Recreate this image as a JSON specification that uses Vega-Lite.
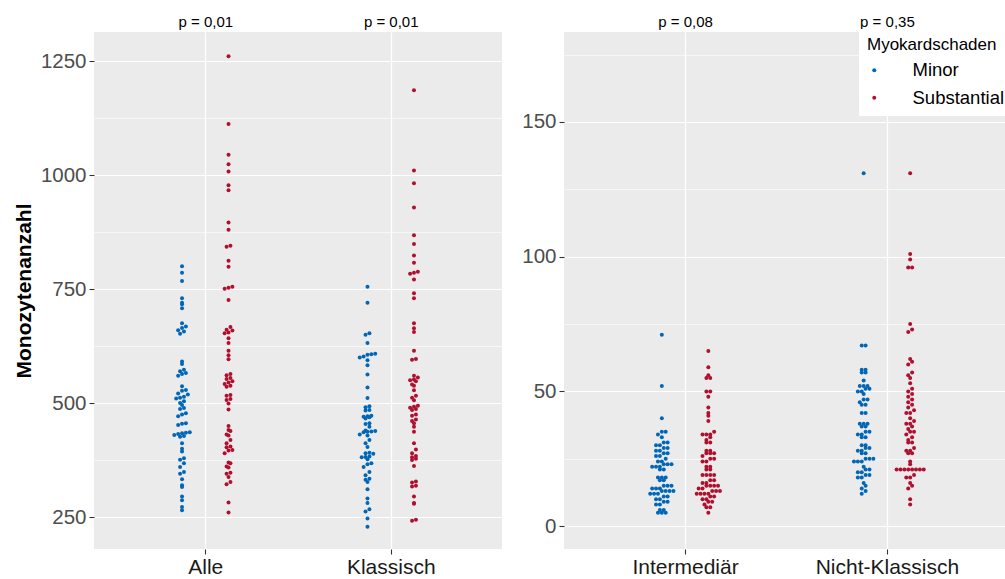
{
 "$schema": "https://vega.github.io/schema/vega-lite/v6.json",
 "padding": {"left": 13, "top": 14, "right": 0, "bottom": 0},
 "datasets": {
  "monos": [
   {"kat":"Alle","gruppe":"Minor","wert":800},{"kat":"Alle","gruppe":"Minor","wert":786},{"kat":"Alle","gruppe":"Minor","wert":768},{"kat":"Alle","gruppe":"Minor","wert":730},{"kat":"Alle","gruppe":"Minor","wert":720},{"kat":"Alle","gruppe":"Minor","wert":717},{"kat":"Alle","gruppe":"Minor","wert":708},{"kat":"Alle","gruppe":"Minor","wert":675},{"kat":"Alle","gruppe":"Minor","wert":668},{"kat":"Alle","gruppe":"Minor","wert":665},{"kat":"Alle","gruppe":"Minor","wert":660},{"kat":"Alle","gruppe":"Minor","wert":657},{"kat":"Alle","gruppe":"Minor","wert":652},{"kat":"Alle","gruppe":"Minor","wert":591},{"kat":"Alle","gruppe":"Minor","wert":586},{"kat":"Alle","gruppe":"Minor","wert":573},{"kat":"Alle","gruppe":"Minor","wert":570},{"kat":"Alle","gruppe":"Minor","wert":566},{"kat":"Alle","gruppe":"Minor","wert":564},{"kat":"Alle","gruppe":"Minor","wert":560},{"kat":"Alle","gruppe":"Minor","wert":537},{"kat":"Alle","gruppe":"Minor","wert":529},{"kat":"Alle","gruppe":"Minor","wert":527},{"kat":"Alle","gruppe":"Minor","wert":521},{"kat":"Alle","gruppe":"Minor","wert":519},{"kat":"Alle","gruppe":"Minor","wert":514},{"kat":"Alle","gruppe":"Minor","wert":512},{"kat":"Alle","gruppe":"Minor","wert":510},{"kat":"Alle","gruppe":"Minor","wert":504},{"kat":"Alle","gruppe":"Minor","wert":500},{"kat":"Alle","gruppe":"Minor","wert":496},{"kat":"Alle","gruppe":"Minor","wert":489},{"kat":"Alle","gruppe":"Minor","wert":487},{"kat":"Alle","gruppe":"Minor","wert":478},{"kat":"Alle","gruppe":"Minor","wert":475},{"kat":"Alle","gruppe":"Minor","wert":471},{"kat":"Alle","gruppe":"Minor","wert":456},{"kat":"Alle","gruppe":"Minor","wert":455},{"kat":"Alle","gruppe":"Minor","wert":452},{"kat":"Alle","gruppe":"Minor","wert":436},{"kat":"Alle","gruppe":"Minor","wert":435},{"kat":"Alle","gruppe":"Minor","wert":434},{"kat":"Alle","gruppe":"Minor","wert":432},{"kat":"Alle","gruppe":"Minor","wert":430},{"kat":"Alle","gruppe":"Minor","wert":428},{"kat":"Alle","gruppe":"Minor","wert":426},{"kat":"Alle","gruppe":"Minor","wert":412},{"kat":"Alle","gruppe":"Minor","wert":400},{"kat":"Alle","gruppe":"Minor","wert":394},{"kat":"Alle","gruppe":"Minor","wert":379},{"kat":"Alle","gruppe":"Minor","wert":376},{"kat":"Alle","gruppe":"Minor","wert":368},{"kat":"Alle","gruppe":"Minor","wert":360},{"kat":"Alle","gruppe":"Minor","wert":349},{"kat":"Alle","gruppe":"Minor","wert":345},{"kat":"Alle","gruppe":"Minor","wert":333},{"kat":"Alle","gruppe":"Minor","wert":320},{"kat":"Alle","gruppe":"Minor","wert":316},{"kat":"Alle","gruppe":"Minor","wert":295},{"kat":"Alle","gruppe":"Minor","wert":287},{"kat":"Alle","gruppe":"Minor","wert":272},{"kat":"Alle","gruppe":"Minor","wert":265},
   {"kat":"Alle","gruppe":"Substantial","wert":1261},{"kat":"Alle","gruppe":"Substantial","wert":1112},{"kat":"Alle","gruppe":"Substantial","wert":1045},{"kat":"Alle","gruppe":"Substantial","wert":1024},{"kat":"Alle","gruppe":"Substantial","wert":1008},{"kat":"Alle","gruppe":"Substantial","wert":978},{"kat":"Alle","gruppe":"Substantial","wert":967},{"kat":"Alle","gruppe":"Substantial","wert":896},{"kat":"Alle","gruppe":"Substantial","wert":880},{"kat":"Alle","gruppe":"Substantial","wert":845},{"kat":"Alle","gruppe":"Substantial","wert":843},{"kat":"Alle","gruppe":"Substantial","wert":812},{"kat":"Alle","gruppe":"Substantial","wert":799},{"kat":"Alle","gruppe":"Substantial","wert":755},{"kat":"Alle","gruppe":"Substantial","wert":753},{"kat":"Alle","gruppe":"Substantial","wert":751},{"kat":"Alle","gruppe":"Substantial","wert":726},{"kat":"Alle","gruppe":"Substantial","wert":667},{"kat":"Alle","gruppe":"Substantial","wert":661},{"kat":"Alle","gruppe":"Substantial","wert":659},{"kat":"Alle","gruppe":"Substantial","wert":655},{"kat":"Alle","gruppe":"Substantial","wert":653},{"kat":"Alle","gruppe":"Substantial","wert":642},{"kat":"Alle","gruppe":"Substantial","wert":632},{"kat":"Alle","gruppe":"Substantial","wert":615},{"kat":"Alle","gruppe":"Substantial","wert":605},{"kat":"Alle","gruppe":"Substantial","wert":596},{"kat":"Alle","gruppe":"Substantial","wert":564},{"kat":"Alle","gruppe":"Substantial","wert":561},{"kat":"Alle","gruppe":"Substantial","wert":555},{"kat":"Alle","gruppe":"Substantial","wert":553},{"kat":"Alle","gruppe":"Substantial","wert":548},{"kat":"Alle","gruppe":"Substantial","wert":545},{"kat":"Alle","gruppe":"Substantial","wert":542},{"kat":"Alle","gruppe":"Substantial","wert":538},{"kat":"Alle","gruppe":"Substantial","wert":536},{"kat":"Alle","gruppe":"Substantial","wert":518},{"kat":"Alle","gruppe":"Substantial","wert":516},{"kat":"Alle","gruppe":"Substantial","wert":509},{"kat":"Alle","gruppe":"Substantial","wert":507},{"kat":"Alle","gruppe":"Substantial","wert":499},{"kat":"Alle","gruppe":"Substantial","wert":486},{"kat":"Alle","gruppe":"Substantial","wert":450},{"kat":"Alle","gruppe":"Substantial","wert":441},{"kat":"Alle","gruppe":"Substantial","wert":439},{"kat":"Alle","gruppe":"Substantial","wert":431},{"kat":"Alle","gruppe":"Substantial","wert":429},{"kat":"Alle","gruppe":"Substantial","wert":419},{"kat":"Alle","gruppe":"Substantial","wert":412},{"kat":"Alle","gruppe":"Substantial","wert":405},{"kat":"Alle","gruppe":"Substantial","wert":403},{"kat":"Alle","gruppe":"Substantial","wert":397},{"kat":"Alle","gruppe":"Substantial","wert":396},{"kat":"Alle","gruppe":"Substantial","wert":390},{"kat":"Alle","gruppe":"Substantial","wert":370},{"kat":"Alle","gruppe":"Substantial","wert":368},{"kat":"Alle","gruppe":"Substantial","wert":361},{"kat":"Alle","gruppe":"Substantial","wert":359},{"kat":"Alle","gruppe":"Substantial","wert":347},{"kat":"Alle","gruppe":"Substantial","wert":345},{"kat":"Alle","gruppe":"Substantial","wert":338},{"kat":"Alle","gruppe":"Substantial","wert":327},{"kat":"Alle","gruppe":"Substantial","wert":322},{"kat":"Alle","gruppe":"Substantial","wert":282},{"kat":"Alle","gruppe":"Substantial","wert":260},
   {"kat":"Klassisch","gruppe":"Minor","wert":755},{"kat":"Klassisch","gruppe":"Minor","wert":720},{"kat":"Klassisch","gruppe":"Minor","wert":653},{"kat":"Klassisch","gruppe":"Minor","wert":650},{"kat":"Klassisch","gruppe":"Minor","wert":632},{"kat":"Klassisch","gruppe":"Minor","wert":608},{"kat":"Klassisch","gruppe":"Minor","wert":607},{"kat":"Klassisch","gruppe":"Minor","wert":606},{"kat":"Klassisch","gruppe":"Minor","wert":602},{"kat":"Klassisch","gruppe":"Minor","wert":600},{"kat":"Klassisch","gruppe":"Minor","wert":594},{"kat":"Klassisch","gruppe":"Minor","wert":583},{"kat":"Klassisch","gruppe":"Minor","wert":563},{"kat":"Klassisch","gruppe":"Minor","wert":534},{"kat":"Klassisch","gruppe":"Minor","wert":511},{"kat":"Klassisch","gruppe":"Minor","wert":493},{"kat":"Klassisch","gruppe":"Minor","wert":491},{"kat":"Klassisch","gruppe":"Minor","wert":485},{"kat":"Klassisch","gruppe":"Minor","wert":484},{"kat":"Klassisch","gruppe":"Minor","wert":472},{"kat":"Klassisch","gruppe":"Minor","wert":471},{"kat":"Klassisch","gruppe":"Minor","wert":470},{"kat":"Klassisch","gruppe":"Minor","wert":469},{"kat":"Klassisch","gruppe":"Minor","wert":466},{"kat":"Klassisch","gruppe":"Minor","wert":456},{"kat":"Klassisch","gruppe":"Minor","wert":454},{"kat":"Klassisch","gruppe":"Minor","wert":448},{"kat":"Klassisch","gruppe":"Minor","wert":440},{"kat":"Klassisch","gruppe":"Minor","wert":439},{"kat":"Klassisch","gruppe":"Minor","wert":438},{"kat":"Klassisch","gruppe":"Minor","wert":437},{"kat":"Klassisch","gruppe":"Minor","wert":436},{"kat":"Klassisch","gruppe":"Minor","wert":431},{"kat":"Klassisch","gruppe":"Minor","wert":429},{"kat":"Klassisch","gruppe":"Minor","wert":419},{"kat":"Klassisch","gruppe":"Minor","wert":412},{"kat":"Klassisch","gruppe":"Minor","wert":404},{"kat":"Klassisch","gruppe":"Minor","wert":391},{"kat":"Klassisch","gruppe":"Minor","wert":390},{"kat":"Klassisch","gruppe":"Minor","wert":389},{"kat":"Klassisch","gruppe":"Minor","wert":383},{"kat":"Klassisch","gruppe":"Minor","wert":382},{"kat":"Klassisch","gruppe":"Minor","wert":381},{"kat":"Klassisch","gruppe":"Minor","wert":377},{"kat":"Klassisch","gruppe":"Minor","wert":368},{"kat":"Klassisch","gruppe":"Minor","wert":366},{"kat":"Klassisch","gruppe":"Minor","wert":360},{"kat":"Klassisch","gruppe":"Minor","wert":349},{"kat":"Klassisch","gruppe":"Minor","wert":342},{"kat":"Klassisch","gruppe":"Minor","wert":334},{"kat":"Klassisch","gruppe":"Minor","wert":332},{"kat":"Klassisch","gruppe":"Minor","wert":327},{"kat":"Klassisch","gruppe":"Minor","wert":311},{"kat":"Klassisch","gruppe":"Minor","wert":291},{"kat":"Klassisch","gruppe":"Minor","wert":281},{"kat":"Klassisch","gruppe":"Minor","wert":267},{"kat":"Klassisch","gruppe":"Minor","wert":262},{"kat":"Klassisch","gruppe":"Minor","wert":247},{"kat":"Klassisch","gruppe":"Minor","wert":229},
   {"kat":"Klassisch","gruppe":"Substantial","wert":1186},{"kat":"Klassisch","gruppe":"Substantial","wert":1010},{"kat":"Klassisch","gruppe":"Substantial","wert":982},{"kat":"Klassisch","gruppe":"Substantial","wert":929},{"kat":"Klassisch","gruppe":"Substantial","wert":868},{"kat":"Klassisch","gruppe":"Substantial","wert":849},{"kat":"Klassisch","gruppe":"Substantial","wert":824},{"kat":"Klassisch","gruppe":"Substantial","wert":808},{"kat":"Klassisch","gruppe":"Substantial","wert":788},{"kat":"Klassisch","gruppe":"Substantial","wert":786},{"kat":"Klassisch","gruppe":"Substantial","wert":784},{"kat":"Klassisch","gruppe":"Substantial","wert":771},{"kat":"Klassisch","gruppe":"Substantial","wert":741},{"kat":"Klassisch","gruppe":"Substantial","wert":730},{"kat":"Klassisch","gruppe":"Substantial","wert":675},{"kat":"Klassisch","gruppe":"Substantial","wert":664},{"kat":"Klassisch","gruppe":"Substantial","wert":656},{"kat":"Klassisch","gruppe":"Substantial","wert":615},{"kat":"Klassisch","gruppe":"Substantial","wert":597},{"kat":"Klassisch","gruppe":"Substantial","wert":595},{"kat":"Klassisch","gruppe":"Substantial","wert":560},{"kat":"Klassisch","gruppe":"Substantial","wert":556},{"kat":"Klassisch","gruppe":"Substantial","wert":552},{"kat":"Klassisch","gruppe":"Substantial","wert":550},{"kat":"Klassisch","gruppe":"Substantial","wert":548},{"kat":"Klassisch","gruppe":"Substantial","wert":541},{"kat":"Klassisch","gruppe":"Substantial","wert":538},{"kat":"Klassisch","gruppe":"Substantial","wert":528},{"kat":"Klassisch","gruppe":"Substantial","wert":516},{"kat":"Klassisch","gruppe":"Substantial","wert":512},{"kat":"Klassisch","gruppe":"Substantial","wert":506},{"kat":"Klassisch","gruppe":"Substantial","wert":494},{"kat":"Klassisch","gruppe":"Substantial","wert":492},{"kat":"Klassisch","gruppe":"Substantial","wert":490},{"kat":"Klassisch","gruppe":"Substantial","wert":487},{"kat":"Klassisch","gruppe":"Substantial","wert":485},{"kat":"Klassisch","gruppe":"Substantial","wert":475},{"kat":"Klassisch","gruppe":"Substantial","wert":472},{"kat":"Klassisch","gruppe":"Substantial","wert":464},{"kat":"Klassisch","gruppe":"Substantial","wert":461},{"kat":"Klassisch","gruppe":"Substantial","wert":456},{"kat":"Klassisch","gruppe":"Substantial","wert":448},{"kat":"Klassisch","gruppe":"Substantial","wert":437},{"kat":"Klassisch","gruppe":"Substantial","wert":412},{"kat":"Klassisch","gruppe":"Substantial","wert":398},{"kat":"Klassisch","gruppe":"Substantial","wert":390},{"kat":"Klassisch","gruppe":"Substantial","wert":384},{"kat":"Klassisch","gruppe":"Substantial","wert":381},{"kat":"Klassisch","gruppe":"Substantial","wert":378},{"kat":"Klassisch","gruppe":"Substantial","wert":375},{"kat":"Klassisch","gruppe":"Substantial","wert":362},{"kat":"Klassisch","gruppe":"Substantial","wert":328},{"kat":"Klassisch","gruppe":"Substantial","wert":326},{"kat":"Klassisch","gruppe":"Substantial","wert":319},{"kat":"Klassisch","gruppe":"Substantial","wert":317},{"kat":"Klassisch","gruppe":"Substantial","wert":295},{"kat":"Klassisch","gruppe":"Substantial","wert":281},{"kat":"Klassisch","gruppe":"Substantial","wert":279},{"kat":"Klassisch","gruppe":"Substantial","wert":244},{"kat":"Klassisch","gruppe":"Substantial","wert":242},
   {"kat":"Intermediär","gruppe":"Minor","wert":71},{"kat":"Intermediär","gruppe":"Minor","wert":52},{"kat":"Intermediär","gruppe":"Minor","wert":40},{"kat":"Intermediär","gruppe":"Minor","wert":35},{"kat":"Intermediär","gruppe":"Minor","wert":35},{"kat":"Intermediär","gruppe":"Minor","wert":34},{"kat":"Intermediär","gruppe":"Minor","wert":33},{"kat":"Intermediär","gruppe":"Minor","wert":31},{"kat":"Intermediär","gruppe":"Minor","wert":31},{"kat":"Intermediär","gruppe":"Minor","wert":30},{"kat":"Intermediär","gruppe":"Minor","wert":30},{"kat":"Intermediär","gruppe":"Minor","wert":29},{"kat":"Intermediär","gruppe":"Minor","wert":29},{"kat":"Intermediär","gruppe":"Minor","wert":28},{"kat":"Intermediär","gruppe":"Minor","wert":28},{"kat":"Intermediär","gruppe":"Minor","wert":27},{"kat":"Intermediär","gruppe":"Minor","wert":27},{"kat":"Intermediär","gruppe":"Minor","wert":26},{"kat":"Intermediär","gruppe":"Minor","wert":26},{"kat":"Intermediär","gruppe":"Minor","wert":25},{"kat":"Intermediär","gruppe":"Minor","wert":24},{"kat":"Intermediär","gruppe":"Minor","wert":24},{"kat":"Intermediär","gruppe":"Minor","wert":23},{"kat":"Intermediär","gruppe":"Minor","wert":23},{"kat":"Intermediär","gruppe":"Minor","wert":23},{"kat":"Intermediär","gruppe":"Minor","wert":22},{"kat":"Intermediär","gruppe":"Minor","wert":22},{"kat":"Intermediär","gruppe":"Minor","wert":22},{"kat":"Intermediär","gruppe":"Minor","wert":21},{"kat":"Intermediär","gruppe":"Minor","wert":21},{"kat":"Intermediär","gruppe":"Minor","wert":18},{"kat":"Intermediär","gruppe":"Minor","wert":18},{"kat":"Intermediär","gruppe":"Minor","wert":18},{"kat":"Intermediär","gruppe":"Minor","wert":17},{"kat":"Intermediär","gruppe":"Minor","wert":17},{"kat":"Intermediär","gruppe":"Minor","wert":15},{"kat":"Intermediär","gruppe":"Minor","wert":15},{"kat":"Intermediär","gruppe":"Minor","wert":15},{"kat":"Intermediär","gruppe":"Minor","wert":14},{"kat":"Intermediär","gruppe":"Minor","wert":14},{"kat":"Intermediär","gruppe":"Minor","wert":14},{"kat":"Intermediär","gruppe":"Minor","wert":13},{"kat":"Intermediär","gruppe":"Minor","wert":13},{"kat":"Intermediär","gruppe":"Minor","wert":13},{"kat":"Intermediär","gruppe":"Minor","wert":13},{"kat":"Intermediär","gruppe":"Minor","wert":12},{"kat":"Intermediär","gruppe":"Minor","wert":12},{"kat":"Intermediär","gruppe":"Minor","wert":12},{"kat":"Intermediär","gruppe":"Minor","wert":11},{"kat":"Intermediär","gruppe":"Minor","wert":11},{"kat":"Intermediär","gruppe":"Minor","wert":10},{"kat":"Intermediär","gruppe":"Minor","wert":10},{"kat":"Intermediär","gruppe":"Minor","wert":9},{"kat":"Intermediär","gruppe":"Minor","wert":9},{"kat":"Intermediär","gruppe":"Minor","wert":8},{"kat":"Intermediär","gruppe":"Minor","wert":8},{"kat":"Intermediär","gruppe":"Minor","wert":6},{"kat":"Intermediär","gruppe":"Minor","wert":6},{"kat":"Intermediär","gruppe":"Minor","wert":5},{"kat":"Intermediär","gruppe":"Minor","wert":5},{"kat":"Intermediär","gruppe":"Minor","wert":5},
   {"kat":"Intermediär","gruppe":"Substantial","wert":65},{"kat":"Intermediär","gruppe":"Substantial","wert":59},{"kat":"Intermediär","gruppe":"Substantial","wert":56},{"kat":"Intermediär","gruppe":"Substantial","wert":55},{"kat":"Intermediär","gruppe":"Substantial","wert":55},{"kat":"Intermediär","gruppe":"Substantial","wert":50},{"kat":"Intermediär","gruppe":"Substantial","wert":50},{"kat":"Intermediär","gruppe":"Substantial","wert":48},{"kat":"Intermediär","gruppe":"Substantial","wert":44},{"kat":"Intermediär","gruppe":"Substantial","wert":42},{"kat":"Intermediär","gruppe":"Substantial","wert":41},{"kat":"Intermediär","gruppe":"Substantial","wert":39},{"kat":"Intermediär","gruppe":"Substantial","wert":35},{"kat":"Intermediär","gruppe":"Substantial","wert":34},{"kat":"Intermediär","gruppe":"Substantial","wert":34},{"kat":"Intermediär","gruppe":"Substantial","wert":34},{"kat":"Intermediär","gruppe":"Substantial","wert":33},{"kat":"Intermediär","gruppe":"Substantial","wert":32},{"kat":"Intermediär","gruppe":"Substantial","wert":31},{"kat":"Intermediär","gruppe":"Substantial","wert":31},{"kat":"Intermediär","gruppe":"Substantial","wert":28},{"kat":"Intermediär","gruppe":"Substantial","wert":28},{"kat":"Intermediär","gruppe":"Substantial","wert":27},{"kat":"Intermediär","gruppe":"Substantial","wert":27},{"kat":"Intermediär","gruppe":"Substantial","wert":27},{"kat":"Intermediär","gruppe":"Substantial","wert":26},{"kat":"Intermediär","gruppe":"Substantial","wert":25},{"kat":"Intermediär","gruppe":"Substantial","wert":25},{"kat":"Intermediär","gruppe":"Substantial","wert":24},{"kat":"Intermediär","gruppe":"Substantial","wert":24},{"kat":"Intermediär","gruppe":"Substantial","wert":22},{"kat":"Intermediär","gruppe":"Substantial","wert":22},{"kat":"Intermediär","gruppe":"Substantial","wert":21},{"kat":"Intermediär","gruppe":"Substantial","wert":21},{"kat":"Intermediär","gruppe":"Substantial","wert":19},{"kat":"Intermediär","gruppe":"Substantial","wert":19},{"kat":"Intermediär","gruppe":"Substantial","wert":19},{"kat":"Intermediär","gruppe":"Substantial","wert":19},{"kat":"Intermediär","gruppe":"Substantial","wert":17},{"kat":"Intermediär","gruppe":"Substantial","wert":17},{"kat":"Intermediär","gruppe":"Substantial","wert":16},{"kat":"Intermediär","gruppe":"Substantial","wert":16},{"kat":"Intermediär","gruppe":"Substantial","wert":15},{"kat":"Intermediär","gruppe":"Substantial","wert":15},{"kat":"Intermediär","gruppe":"Substantial","wert":15},{"kat":"Intermediär","gruppe":"Substantial","wert":15},{"kat":"Intermediär","gruppe":"Substantial","wert":14},{"kat":"Intermediär","gruppe":"Substantial","wert":14},{"kat":"Intermediär","gruppe":"Substantial","wert":13},{"kat":"Intermediär","gruppe":"Substantial","wert":13},{"kat":"Intermediär","gruppe":"Substantial","wert":13},{"kat":"Intermediär","gruppe":"Substantial","wert":12},{"kat":"Intermediär","gruppe":"Substantial","wert":12},{"kat":"Intermediär","gruppe":"Substantial","wert":12},{"kat":"Intermediär","gruppe":"Substantial","wert":12},{"kat":"Intermediär","gruppe":"Substantial","wert":11},{"kat":"Intermediär","gruppe":"Substantial","wert":11},{"kat":"Intermediär","gruppe":"Substantial","wert":10},{"kat":"Intermediär","gruppe":"Substantial","wert":10},{"kat":"Intermediär","gruppe":"Substantial","wert":9},{"kat":"Intermediär","gruppe":"Substantial","wert":9},{"kat":"Intermediär","gruppe":"Substantial","wert":8},{"kat":"Intermediär","gruppe":"Substantial","wert":7},{"kat":"Intermediär","gruppe":"Substantial","wert":7},{"kat":"Intermediär","gruppe":"Substantial","wert":5},
   {"kat":"Nicht-Klassisch","gruppe":"Minor","wert":131},{"kat":"Nicht-Klassisch","gruppe":"Minor","wert":67},{"kat":"Nicht-Klassisch","gruppe":"Minor","wert":67},{"kat":"Nicht-Klassisch","gruppe":"Minor","wert":58},{"kat":"Nicht-Klassisch","gruppe":"Minor","wert":58},{"kat":"Nicht-Klassisch","gruppe":"Minor","wert":57},{"kat":"Nicht-Klassisch","gruppe":"Minor","wert":57},{"kat":"Nicht-Klassisch","gruppe":"Minor","wert":54},{"kat":"Nicht-Klassisch","gruppe":"Minor","wert":52},{"kat":"Nicht-Klassisch","gruppe":"Minor","wert":52},{"kat":"Nicht-Klassisch","gruppe":"Minor","wert":52},{"kat":"Nicht-Klassisch","gruppe":"Minor","wert":51},{"kat":"Nicht-Klassisch","gruppe":"Minor","wert":51},{"kat":"Nicht-Klassisch","gruppe":"Minor","wert":50},{"kat":"Nicht-Klassisch","gruppe":"Minor","wert":50},{"kat":"Nicht-Klassisch","gruppe":"Minor","wert":49},{"kat":"Nicht-Klassisch","gruppe":"Minor","wert":47},{"kat":"Nicht-Klassisch","gruppe":"Minor","wert":47},{"kat":"Nicht-Klassisch","gruppe":"Minor","wert":46},{"kat":"Nicht-Klassisch","gruppe":"Minor","wert":45},{"kat":"Nicht-Klassisch","gruppe":"Minor","wert":45},{"kat":"Nicht-Klassisch","gruppe":"Minor","wert":42},{"kat":"Nicht-Klassisch","gruppe":"Minor","wert":42},{"kat":"Nicht-Klassisch","gruppe":"Minor","wert":38},{"kat":"Nicht-Klassisch","gruppe":"Minor","wert":38},{"kat":"Nicht-Klassisch","gruppe":"Minor","wert":38},{"kat":"Nicht-Klassisch","gruppe":"Minor","wert":37},{"kat":"Nicht-Klassisch","gruppe":"Minor","wert":37},{"kat":"Nicht-Klassisch","gruppe":"Minor","wert":35},{"kat":"Nicht-Klassisch","gruppe":"Minor","wert":35},{"kat":"Nicht-Klassisch","gruppe":"Minor","wert":34},{"kat":"Nicht-Klassisch","gruppe":"Minor","wert":34},{"kat":"Nicht-Klassisch","gruppe":"Minor","wert":33},{"kat":"Nicht-Klassisch","gruppe":"Minor","wert":33},{"kat":"Nicht-Klassisch","gruppe":"Minor","wert":30},{"kat":"Nicht-Klassisch","gruppe":"Minor","wert":30},{"kat":"Nicht-Klassisch","gruppe":"Minor","wert":29},{"kat":"Nicht-Klassisch","gruppe":"Minor","wert":29},{"kat":"Nicht-Klassisch","gruppe":"Minor","wert":28},{"kat":"Nicht-Klassisch","gruppe":"Minor","wert":28},{"kat":"Nicht-Klassisch","gruppe":"Minor","wert":27},{"kat":"Nicht-Klassisch","gruppe":"Minor","wert":27},{"kat":"Nicht-Klassisch","gruppe":"Minor","wert":25},{"kat":"Nicht-Klassisch","gruppe":"Minor","wert":25},{"kat":"Nicht-Klassisch","gruppe":"Minor","wert":25},{"kat":"Nicht-Klassisch","gruppe":"Minor","wert":24},{"kat":"Nicht-Klassisch","gruppe":"Minor","wert":24},{"kat":"Nicht-Klassisch","gruppe":"Minor","wert":24},{"kat":"Nicht-Klassisch","gruppe":"Minor","wert":22},{"kat":"Nicht-Klassisch","gruppe":"Minor","wert":21},{"kat":"Nicht-Klassisch","gruppe":"Minor","wert":21},{"kat":"Nicht-Klassisch","gruppe":"Minor","wert":20},{"kat":"Nicht-Klassisch","gruppe":"Minor","wert":20},{"kat":"Nicht-Klassisch","gruppe":"Minor","wert":19},{"kat":"Nicht-Klassisch","gruppe":"Minor","wert":19},{"kat":"Nicht-Klassisch","gruppe":"Minor","wert":18},{"kat":"Nicht-Klassisch","gruppe":"Minor","wert":18},{"kat":"Nicht-Klassisch","gruppe":"Minor","wert":16},{"kat":"Nicht-Klassisch","gruppe":"Minor","wert":15},{"kat":"Nicht-Klassisch","gruppe":"Minor","wert":14},{"kat":"Nicht-Klassisch","gruppe":"Minor","wert":13},{"kat":"Nicht-Klassisch","gruppe":"Minor","wert":12},
   {"kat":"Nicht-Klassisch","gruppe":"Substantial","wert":131},{"kat":"Nicht-Klassisch","gruppe":"Substantial","wert":101},{"kat":"Nicht-Klassisch","gruppe":"Substantial","wert":99},{"kat":"Nicht-Klassisch","gruppe":"Substantial","wert":96},{"kat":"Nicht-Klassisch","gruppe":"Substantial","wert":96},{"kat":"Nicht-Klassisch","gruppe":"Substantial","wert":75},{"kat":"Nicht-Klassisch","gruppe":"Substantial","wert":73},{"kat":"Nicht-Klassisch","gruppe":"Substantial","wert":72},{"kat":"Nicht-Klassisch","gruppe":"Substantial","wert":62},{"kat":"Nicht-Klassisch","gruppe":"Substantial","wert":61},{"kat":"Nicht-Klassisch","gruppe":"Substantial","wert":60},{"kat":"Nicht-Klassisch","gruppe":"Substantial","wert":57},{"kat":"Nicht-Klassisch","gruppe":"Substantial","wert":56},{"kat":"Nicht-Klassisch","gruppe":"Substantial","wert":55},{"kat":"Nicht-Klassisch","gruppe":"Substantial","wert":53},{"kat":"Nicht-Klassisch","gruppe":"Substantial","wert":51},{"kat":"Nicht-Klassisch","gruppe":"Substantial","wert":50},{"kat":"Nicht-Klassisch","gruppe":"Substantial","wert":49},{"kat":"Nicht-Klassisch","gruppe":"Substantial","wert":48},{"kat":"Nicht-Klassisch","gruppe":"Substantial","wert":47},{"kat":"Nicht-Klassisch","gruppe":"Substantial","wert":46},{"kat":"Nicht-Klassisch","gruppe":"Substantial","wert":45},{"kat":"Nicht-Klassisch","gruppe":"Substantial","wert":44},{"kat":"Nicht-Klassisch","gruppe":"Substantial","wert":43},{"kat":"Nicht-Klassisch","gruppe":"Substantial","wert":42},{"kat":"Nicht-Klassisch","gruppe":"Substantial","wert":42},{"kat":"Nicht-Klassisch","gruppe":"Substantial","wert":40},{"kat":"Nicht-Klassisch","gruppe":"Substantial","wert":39},{"kat":"Nicht-Klassisch","gruppe":"Substantial","wert":38},{"kat":"Nicht-Klassisch","gruppe":"Substantial","wert":38},{"kat":"Nicht-Klassisch","gruppe":"Substantial","wert":37},{"kat":"Nicht-Klassisch","gruppe":"Substantial","wert":36},{"kat":"Nicht-Klassisch","gruppe":"Substantial","wert":35},{"kat":"Nicht-Klassisch","gruppe":"Substantial","wert":35},{"kat":"Nicht-Klassisch","gruppe":"Substantial","wert":34},{"kat":"Nicht-Klassisch","gruppe":"Substantial","wert":33},{"kat":"Nicht-Klassisch","gruppe":"Substantial","wert":32},{"kat":"Nicht-Klassisch","gruppe":"Substantial","wert":31},{"kat":"Nicht-Klassisch","gruppe":"Substantial","wert":31},{"kat":"Nicht-Klassisch","gruppe":"Substantial","wert":29},{"kat":"Nicht-Klassisch","gruppe":"Substantial","wert":28},{"kat":"Nicht-Klassisch","gruppe":"Substantial","wert":28},{"kat":"Nicht-Klassisch","gruppe":"Substantial","wert":27},{"kat":"Nicht-Klassisch","gruppe":"Substantial","wert":27},{"kat":"Nicht-Klassisch","gruppe":"Substantial","wert":24},{"kat":"Nicht-Klassisch","gruppe":"Substantial","wert":23},{"kat":"Nicht-Klassisch","gruppe":"Substantial","wert":21},{"kat":"Nicht-Klassisch","gruppe":"Substantial","wert":21},{"kat":"Nicht-Klassisch","gruppe":"Substantial","wert":21},{"kat":"Nicht-Klassisch","gruppe":"Substantial","wert":21},{"kat":"Nicht-Klassisch","gruppe":"Substantial","wert":21},{"kat":"Nicht-Klassisch","gruppe":"Substantial","wert":21},{"kat":"Nicht-Klassisch","gruppe":"Substantial","wert":21},{"kat":"Nicht-Klassisch","gruppe":"Substantial","wert":21},{"kat":"Nicht-Klassisch","gruppe":"Substantial","wert":19},{"kat":"Nicht-Klassisch","gruppe":"Substantial","wert":18},{"kat":"Nicht-Klassisch","gruppe":"Substantial","wert":18},{"kat":"Nicht-Klassisch","gruppe":"Substantial","wert":16},{"kat":"Nicht-Klassisch","gruppe":"Substantial","wert":15},{"kat":"Nicht-Klassisch","gruppe":"Substantial","wert":14},{"kat":"Nicht-Klassisch","gruppe":"Substantial","wert":10},{"kat":"Nicht-Klassisch","gruppe":"Substantial","wert":8}
  ]
 },
 "hconcat": [
  {
   "width": 408,
   "height": 517,
   "data": {"name": "monos"},
   "transform": [
    {"filter": {"field": "kat", "oneOf": ["Alle", "Klassisch"]}},
    {"bin": {"step": 10}, "field": "wert", "as": "wbin"},
    {"window": [{"op": "row_number", "as": "r"}, {"op": "count", "as": "cnt"}], "groupby": ["kat", "gruppe", "wbin"], "sort": [{"field": "wert", "order": "ascending"}], "frame": [null, null]},
    {"calculate": "(datum.gruppe == 'Minor' ? -6 : 6) + datum.r - (datum.cnt + 1) / 2", "as": "off"}
   ],
   "layer": [
    {
     "mark": {"type": "point", "filled": true, "size": 16, "opacity": 1},
     "encoding": {
      "x": {"field": "kat", "type": "nominal", "scale": {"type": "point", "padding": 0.6, "domain": ["Alle", "Klassisch"]},
            "axis": {"orient": "bottom", "title": null, "labelAngle": 0, "labelFontSize": 21, "labelColor": "#1A1A1A", "labelPadding": 2, "grid": true}},
      "xOffset": {"field": "off", "type": "quantitative", "scale": {"domain": [-10, 10], "range": [-38.75, 38.75]}},
      "y": {"field": "wert", "type": "quantitative", "scale": {"domain": [180, 1314], "nice": false, "zero": false},
            "axis": {"values": [250, 500, 750, 1000, 1250], "format": "d", "title": "Monozytenanzahl", "titleFontSize": 21, "titleFontWeight": "bold", "titleColor": "#000000", "titlePadding": 6, "labelFontSize": 20.5, "labelColor": "#4D4D4D", "labelPadding": 3, "grid": true}},
      "color": {"field": "gruppe", "type": "nominal", "scale": {"domain": ["Minor", "Substantial"], "range": ["#0066B8", "#B0102E"]}, "legend": null}
     }
    },
    {
     "mark": {"type": "point", "opacity": 0, "size": 1},
     "encoding": {
      "x": {"field": "kat", "type": "nominal",
            "axis": {"orient": "top", "title": null, "labelAngle": 0, "labelExpr": "datum.value == 'Alle' ? 'p = 0,01' : 'p = 0,01'", "labelFontSize": 15, "labelColor": "#000000", "labelPadding": 3, "ticks": false, "grid": false}},
      "y": {"field": "wert", "type": "quantitative",
            "axis": {"orient": "right", "title": null, "values": [375, 625, 875, 1125], "labels": false, "ticks": false, "grid": true, "gridWidth": 0.6}}
     }
    }
   ],
   "resolve": {"axis": {"x": "independent", "y": "independent"}}
  },
  {
   "width": 444,
   "height": 517,
   "data": {"name": "monos"},
   "transform": [
    {"filter": {"field": "kat", "oneOf": ["Intermediär", "Nicht-Klassisch"]}},
    {"bin": {"step": 2}, "field": "wert", "as": "wbin"},
    {"window": [{"op": "row_number", "as": "r"}, {"op": "count", "as": "cnt"}], "groupby": ["kat", "gruppe", "wbin"], "sort": [{"field": "wert", "order": "ascending"}], "frame": [null, null]},
    {"calculate": "(datum.gruppe == 'Minor' ? -6 : 6) + datum.r - (datum.cnt + 1) / 2", "as": "off"}
   ],
   "layer": [
    {
     "mark": {"type": "point", "filled": true, "size": 16, "opacity": 1},
     "encoding": {
      "x": {"field": "kat", "type": "nominal", "scale": {"type": "point", "padding": 0.6, "domain": ["Intermediär", "Nicht-Klassisch"]},
            "axis": {"orient": "bottom", "title": null, "labelAngle": 0, "labelFontSize": 21, "labelColor": "#1A1A1A", "labelPadding": 2, "grid": true}},
      "xOffset": {"field": "off", "type": "quantitative", "scale": {"domain": [-10, 10], "range": [-42, 42]}},
      "y": {"field": "wert", "type": "quantitative", "scale": {"domain": [-8.5, 183.4], "nice": false, "zero": false},
            "axis": {"values": [0, 50, 100, 150], "format": "d", "title": null, "labelFontSize": 20.5, "labelColor": "#4D4D4D", "labelPadding": 3, "grid": true}},
      "color": {"field": "gruppe", "type": "nominal", "scale": {"domain": ["Minor", "Substantial"], "range": ["#0066B8", "#B0102E"]},
                "legend": {"title": "Myokardschaden", "orient": "none", "legendX": 295, "legendY": -3, "padding": 8, "fillColor": "#FFFFFF", "titleFontSize": 17, "titleFontWeight": "normal", "titleColor": "#000000", "titlePadding": 7, "labelFontSize": 18.5, "labelColor": "#000000", "symbolType": "circle", "symbolSize": 16, "symbolStrokeWidth": 0, "symbolOffset": -2, "labelOffset": 29, "rowPadding": 8.5}}
     }
    },
    {
     "mark": {"type": "point", "opacity": 0, "size": 1},
     "encoding": {
      "x": {"field": "kat", "type": "nominal",
            "axis": {"orient": "top", "title": null, "labelAngle": 0, "labelExpr": "datum.value == 'Intermediär' ? 'p = 0,08' : 'p = 0,35'", "labelFontSize": 15, "labelColor": "#000000", "labelPadding": 3, "ticks": false, "grid": false}},
      "y": {"field": "wert", "type": "quantitative",
            "axis": {"orient": "right", "title": null, "values": [25, 75, 125, 175], "labels": false, "ticks": false, "grid": true, "gridWidth": 0.6}}
     }
    }
   ],
   "resolve": {"axis": {"x": "independent", "y": "independent"}}
  }
 ],
 "spacing": 19,
 "resolve": {"scale": {"color": "independent"}},
 "config": {
  "font": "Liberation Sans",
  "view": {"fill": "#EBEBEB", "stroke": null},
  "axis": {"domain": false, "gridColor": "#FFFFFF", "gridWidth": 1.2, "tickColor": "#333333", "tickSize": 5, "tickWidth": 1.1, "labelFont": "Liberation Sans", "titleFont": "Liberation Sans"},
  "legend": {"labelFont": "Liberation Sans", "titleFont": "Liberation Sans"}
 }
}
